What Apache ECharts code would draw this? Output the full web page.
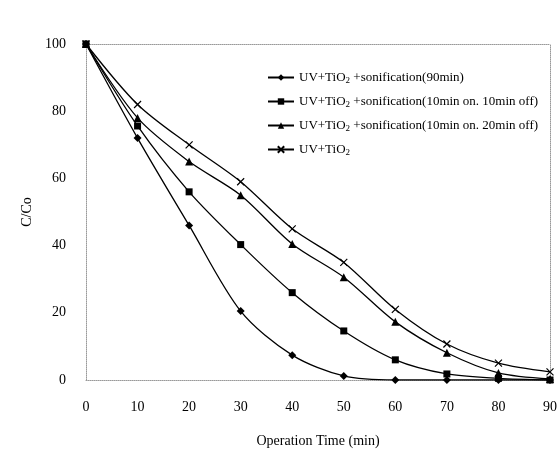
<!DOCTYPE html>
<html>
<head>
<meta charset="utf-8">
<script src="https://cdn.jsdelivr.net/npm/echarts@6/dist/echarts.min.js"></script>
<style>
  html, body { margin: 0; padding: 0; background: #fff; }
  #main { width: 560px; height: 456px; }
</style>
</head>
<body>
<div id="main"></div>
<script>
var times = [0, 10, 20, 30, 40, 50, 60, 70, 80, 90];
var sono90 = [100, 72, 46, 20.5, 7.4, 1.2, 0, 0, 0, 0];
var sono10on10off = [100, 75.6, 56, 40.3, 26, 14.6, 6, 1.8, 0.5, 0];
var sono10on20off = [100, 78, 65, 55, 40.5, 30.6, 17.3, 8.1, 2.1, 0.3];
var uvTiO2 = [100, 82, 70, 59, 45, 35, 21, 10.7, 5, 2.4];
var seriesNames = [
    'UV+TiO2 +sonification(90min)',
    'UV+TiO2 +sonification(10min on. 10min off)',
    'UV+TiO2 +sonification(10min on. 20min off)',
    'UV+TiO2'
];

var crossPath = 'path://M0,0L10,10M10,0L0,10';
var serif = '"Liberation Serif", "DejaVu Serif", serif';

function pairs(vals) {
    var out = [];
    for (var i = 0; i < times.length; i++) {
        out.push([times[i], vals[i]]);
    }
    return out;
}

function makeSeries(name, vals, symbol, size) {
    return {
        name: name,
        type: 'line',
        smooth: 0.3,
        symbol: symbol,
        symbolSize: size,
        showAllSymbol: true,
        lineStyle: { color: '#000', width: 1.3 },
        itemStyle: { color: '#000', borderColor: '#000', borderWidth: symbol === crossPath ? 1.2 : 0 },
        emphasis: { disabled: true },
        data: pairs(vals)
    };
}

var chart = echarts.init(document.getElementById('main'));
var frameLine = { show: true, onZero: false, lineStyle: { color: '#999', type: 'dotted', width: 1 } };

var option = {
    animation: false,
    backgroundColor: '#fff',
    textStyle: { fontFamily: serif },
    grid: { left: 86, right: 9, top: 44, bottom: 76 },
    legend: {
        orient: 'vertical',
        left: 262,
        top: 66,
        itemWidth: 26,
        itemHeight: 8,
        itemGap: 10,
        data: seriesNames,
        formatter: function (name) {
            return name.replace('TiO2', 'TiO{s|2}');
        },
        textStyle: {
            fontFamily: serif,
            fontSize: 13,
            color: '#000',
            rich: {
                s: { fontSize: 9, verticalAlign: 'bottom', padding: [6, 0, 0, 0], fontFamily: serif, color: '#000' }
            }
        }
    },
    xAxis: [{
        type: 'value',
        min: 0,
        max: 90,
        interval: 10,
        name: 'Operation Time (min)',
        nameLocation: 'middle',
        nameGap: 54,
        nameTextStyle: { fontSize: 14, color: '#000', fontFamily: serif },
        axisLine: frameLine,
        axisTick: { show: false },
        splitLine: { show: false },
        axisLabel: { margin: 20, fontSize: 14, color: '#000', fontFamily: serif }
    }, {
        type: 'value',
        position: 'top',
        min: 0,
        max: 90,
        axisLine: frameLine,
        axisTick: { show: false },
        axisLabel: { show: false },
        splitLine: { show: false }
    }],
    yAxis: [{
        type: 'value',
        min: 0,
        max: 100,
        interval: 20,
        name: 'C/Co',
        nameLocation: 'middle',
        nameGap: 52,
        nameTextStyle: { fontSize: 14, color: '#000', fontFamily: serif },
        axisLine: frameLine,
        axisTick: { show: false },
        splitLine: { show: false },
        axisLabel: { margin: 20, fontSize: 14, color: '#000', fontFamily: serif }
    }, {
        type: 'value',
        position: 'right',
        min: 0,
        max: 100,
        axisLine: frameLine,
        axisTick: { show: false },
        axisLabel: { show: false },
        splitLine: { show: false }
    }],
    series: [
        makeSeries(seriesNames[0], sono90, 'diamond', 8),
        makeSeries(seriesNames[1], sono10on10off, 'rect', 7),
        makeSeries(seriesNames[2], sono10on20off, 'triangle', 8),
        makeSeries(seriesNames[3], uvTiO2, crossPath, 7)
    ]
};

chart.setOption(option);
</script>
</body>
</html>
